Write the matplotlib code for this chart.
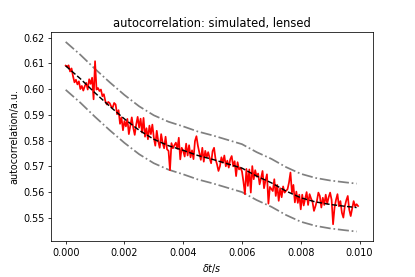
import numpy as np
import matplotlib
matplotlib.use("Agg")
import matplotlib.pyplot as plt

# measured autocorrelation, 200 samples, dt = 5e-5 s
dt = 0.00005
acf = [
    0.6091, 0.6087, 0.6092, 0.6068, 0.6080, 0.6050, 0.6026, 0.6036, 0.6018, 0.6030,
    0.6000, 0.6012, 0.5994, 0.6011, 0.6024, 0.5998, 0.6038, 0.6020, 0.6044, 0.5960,
    0.6108, 0.5998, 0.6004, 0.5992, 0.5998, 0.5972, 0.5980, 0.5953, 0.5940, 0.5950,
    0.5945, 0.5932, 0.5928, 0.5946, 0.5940, 0.5902, 0.5918, 0.5865, 0.5890, 0.5840,
    0.5876, 0.5855, 0.5884, 0.5825, 0.5858, 0.5890, 0.5850, 0.5822, 0.5862, 0.5892,
    0.5850, 0.5885, 0.5831, 0.5888, 0.5815, 0.5848, 0.5805, 0.5858, 0.5825, 0.5862,
    0.5812, 0.5780, 0.5838, 0.5798, 0.5772, 0.5825, 0.5792, 0.5770, 0.5815, 0.5766,
    0.5760, 0.5685, 0.5790, 0.5770, 0.5782, 0.5792, 0.5768, 0.5811, 0.5727, 0.5772,
    0.5760, 0.5738, 0.5788, 0.5742, 0.5782, 0.5735, 0.5762, 0.5728, 0.5798, 0.5817,
    0.5780, 0.5753, 0.5725, 0.5772, 0.5718, 0.5760, 0.5735, 0.5755, 0.5732, 0.5712,
    0.5759, 0.5772, 0.5728, 0.5708, 0.5682, 0.5700, 0.5735, 0.5714, 0.5742, 0.5700,
    0.5722, 0.5695, 0.5727, 0.5740, 0.5700, 0.5720, 0.5662, 0.5716, 0.5688, 0.5695,
    0.5680, 0.5640, 0.5592, 0.5690, 0.5624, 0.5688, 0.5598, 0.5701, 0.5650, 0.5685,
    0.5660, 0.5672, 0.5630, 0.5655, 0.5682, 0.5615, 0.5645, 0.5669, 0.5555, 0.5620,
    0.5612, 0.5604, 0.5650, 0.5585, 0.5628, 0.5566, 0.5615, 0.5580, 0.5622, 0.5598,
    0.5605, 0.5611, 0.5637, 0.5676, 0.5598, 0.5628, 0.5560, 0.5602, 0.5558, 0.5590,
    0.5533, 0.5590, 0.5548, 0.5575, 0.5600, 0.5550, 0.5592, 0.5575, 0.5562, 0.5527,
    0.5545, 0.5566, 0.5598, 0.5585, 0.5540, 0.5578, 0.5550, 0.5590, 0.5555, 0.5580,
    0.5598, 0.5570, 0.5475, 0.5540, 0.5570, 0.5592, 0.5545, 0.5565, 0.5520, 0.5501,
    0.5545, 0.5568, 0.5585, 0.5532, 0.5507, 0.5535, 0.5565, 0.5545, 0.5553, 0.5546,
]

# model curve and envelope
t_model = [0.0, 0.0005, 0.0010, 0.0015, 0.0020, 0.0025, 0.0030, 0.0035, 0.0040, 0.0045,
           0.0050, 0.0055, 0.0060, 0.0065, 0.0070, 0.0075, 0.0080, 0.0085, 0.0090, 0.0095, 0.0099]
model = [0.6090, 0.6040, 0.5985, 0.5933, 0.5884, 0.5840, 0.5805, 0.5780, 0.5762, 0.5742,
         0.5727, 0.5710, 0.5693, 0.5662, 0.5636, 0.5604, 0.5578, 0.5562, 0.5552, 0.5545, 0.5540]
upper = [0.6183, 0.6133, 0.6078, 0.6026, 0.5977, 0.5933, 0.5898, 0.5873, 0.5855, 0.5835,
         0.5820, 0.5803, 0.5786, 0.5755, 0.5729, 0.5697, 0.5671, 0.5655, 0.5645, 0.5638, 0.5633]
lower = [0.5997, 0.5947, 0.5892, 0.5840, 0.5791, 0.5747, 0.5712, 0.5687, 0.5669, 0.5649,
         0.5634, 0.5617, 0.5600, 0.5569, 0.5543, 0.5511, 0.5485, 0.5469, 0.5459, 0.5452, 0.5447]

t = np.arange(len(acf)) * dt

fig = plt.figure(figsize=(415 / 69.2, 277 / 69.2), dpi=69.2)
ax = fig.add_subplot(111)
fig.subplots_adjust(left=0.123, right=0.898, top=0.883, bottom=0.130)

ax.plot(t_model, upper, color="gray", linestyle="-.", linewidth=1.8)
ax.plot(t_model, lower, color="gray", linestyle="-.", linewidth=1.8)
ax.plot(t, acf, color="red", linewidth=1.8)
ax.plot(t_model, model, color="black", linestyle="--", linewidth=1.5)

ax.set_xlabel(r"$\delta t/s$")
ax.set_ylabel("autocorrelation/a.u.")
ax.set_title("autocorrelation: simulated, lensed")
ax.set_xticks([0.0, 0.002, 0.004, 0.006, 0.008, 0.010])

fig.savefig("out.png", dpi=69.2)
